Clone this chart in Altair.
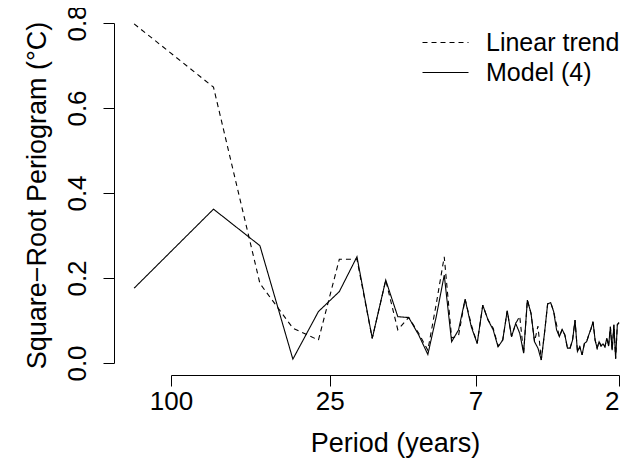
import altair as alt
import pandas as pd

N_YEARS = 138
k_index = list(range(1, 70))

model4 = [0.176, 0.362, 0.276, 0.009, 0.121, 0.168, 0.250, 0.058, 0.195, 0.109,
          0.107, 0.066, 0.020, 0.110, 0.207, 0.050, 0.078, 0.150, 0.085, 0.046,
          0.136, 0.101, 0.078, 0.038, 0.054, 0.123, 0.062, 0.093, 0.070, 0.023,
          0.148, 0.117, 0.050, 0.035, 0.007, 0.070, 0.139, 0.142, 0.121, 0.078,
          0.062, 0.079, 0.066, 0.035, 0.035, 0.054, 0.101, 0.027, 0.038, 0.019,
          0.046, 0.050, 0.066, 0.080, 0.097, 0.054, 0.035, 0.050, 0.040, 0.045,
          0.038, 0.058, 0.040, 0.085, 0.030, 0.090, 0.010, 0.090, 0.095]

linear_trend = [0.798, 0.649, 0.187, 0.082, 0.054, 0.244, 0.244, 0.058, 0.195, 0.078,
                0.107, 0.070, 0.030, 0.140, 0.250, 0.059, 0.065, 0.150, 0.090, 0.046,
                0.136, 0.101, 0.082, 0.040, 0.054, 0.123, 0.062, 0.093, 0.110, 0.023,
                0.148, 0.117, 0.050, 0.087, 0.007, 0.070, 0.139, 0.142, 0.121, 0.090,
                0.062, 0.079, 0.066, 0.035, 0.035, 0.054, 0.101, 0.027, 0.038, 0.019,
                0.046, 0.050, 0.066, 0.080, 0.097, 0.054, 0.035, 0.050, 0.040, 0.045,
                0.038, 0.058, 0.040, 0.085, 0.030, 0.090, 0.010, 0.090, 0.095]

series_names = ["Linear trend", "Model (4)"]
period_ticks = [100, 25, 7, 2]

rows = []
for name, vals in zip(series_names, [linear_trend, model4]):
    for k, v in zip(k_index, vals):
        rows.append({"freq": k / N_YEARS, "value": v, "series": name, "k": k})
df = pd.DataFrame(rows)

FONT = "Liberation Sans"

chart = alt.Chart(df).mark_line(color="black", strokeWidth=1.1).encode(
    x=alt.X("freq:Q",
            scale=alt.Scale(type="log", domain=[0.01, 0.5], nice=False),
            axis=alt.Axis(values=[1 / p for p in period_ticks],
                          labelExpr="format(1/datum.value, '.0f')",
                          title="Period (years)", grid=False, offset=12,
                          tickSize=11, tickColor="black", domainColor="black",
                          labelFontSize=26, labelFont=FONT, labelColor="black",
                          labelPadding=2, labelFlush=False,
                          labelAlign={"condition": {"test": "datum.value > 0.4", "value": "right"},
                                      "value": "center"},
                          titleFontSize=27, titleFont=FONT, titleFontWeight="normal",
                          titleColor="black", titleBaseline="alphabetic",
                          titleY=76)),
    y=alt.Y("value:Q",
            scale=alt.Scale(domain=[0, 0.8], nice=False, zero=False),
            axis=alt.Axis(values=[0, 0.2, 0.4, 0.6, 0.8], format=".1f",
                          title="Square\u2212Root Periogram (\u00b0C)", grid=False,
                          offset=57, tickSize=11, tickColor="black", domainColor="black",
                          labelFontSize=26, labelFont=FONT, labelColor="black",
                          labelAngle=270, labelAlign="center", labelBaseline="alphabetic",
                          labelPadding=18,
                          titleFontSize=27, titleFont=FONT, titleFontWeight="normal",
                          titleColor="black", titleAngle=270, titleAlign="center",
                          titleBaseline="alphabetic", titleX=-69, titleY=172)),
    strokeDash=alt.StrokeDash("series:N",
                              scale=alt.Scale(domain=series_names, range=[[5, 4], [1, 0]]),
                              legend=alt.Legend(title=None, orient="none", legendX=262, legendY=7,
                                                symbolType="M-2,0H2", symbolSize=529,
                                                symbolStrokeWidth=1.1, symbolStrokeColor="black",
                                                labelFontSize=25, labelFont=FONT,
                                                labelColor="black", labelOffset=28,
                                                rowPadding=4)),
    detail="series:N",
    order="k:Q",
).properties(
    width=448, height=340,
    autosize=alt.AutoSizeParams(type="none"),
    padding={"left": 163, "top": 15, "right": 2, "bottom": 96},
).configure_view(stroke=None)

chart.save("out.html", embed_options={"renderer": "svg", "actions": False})
